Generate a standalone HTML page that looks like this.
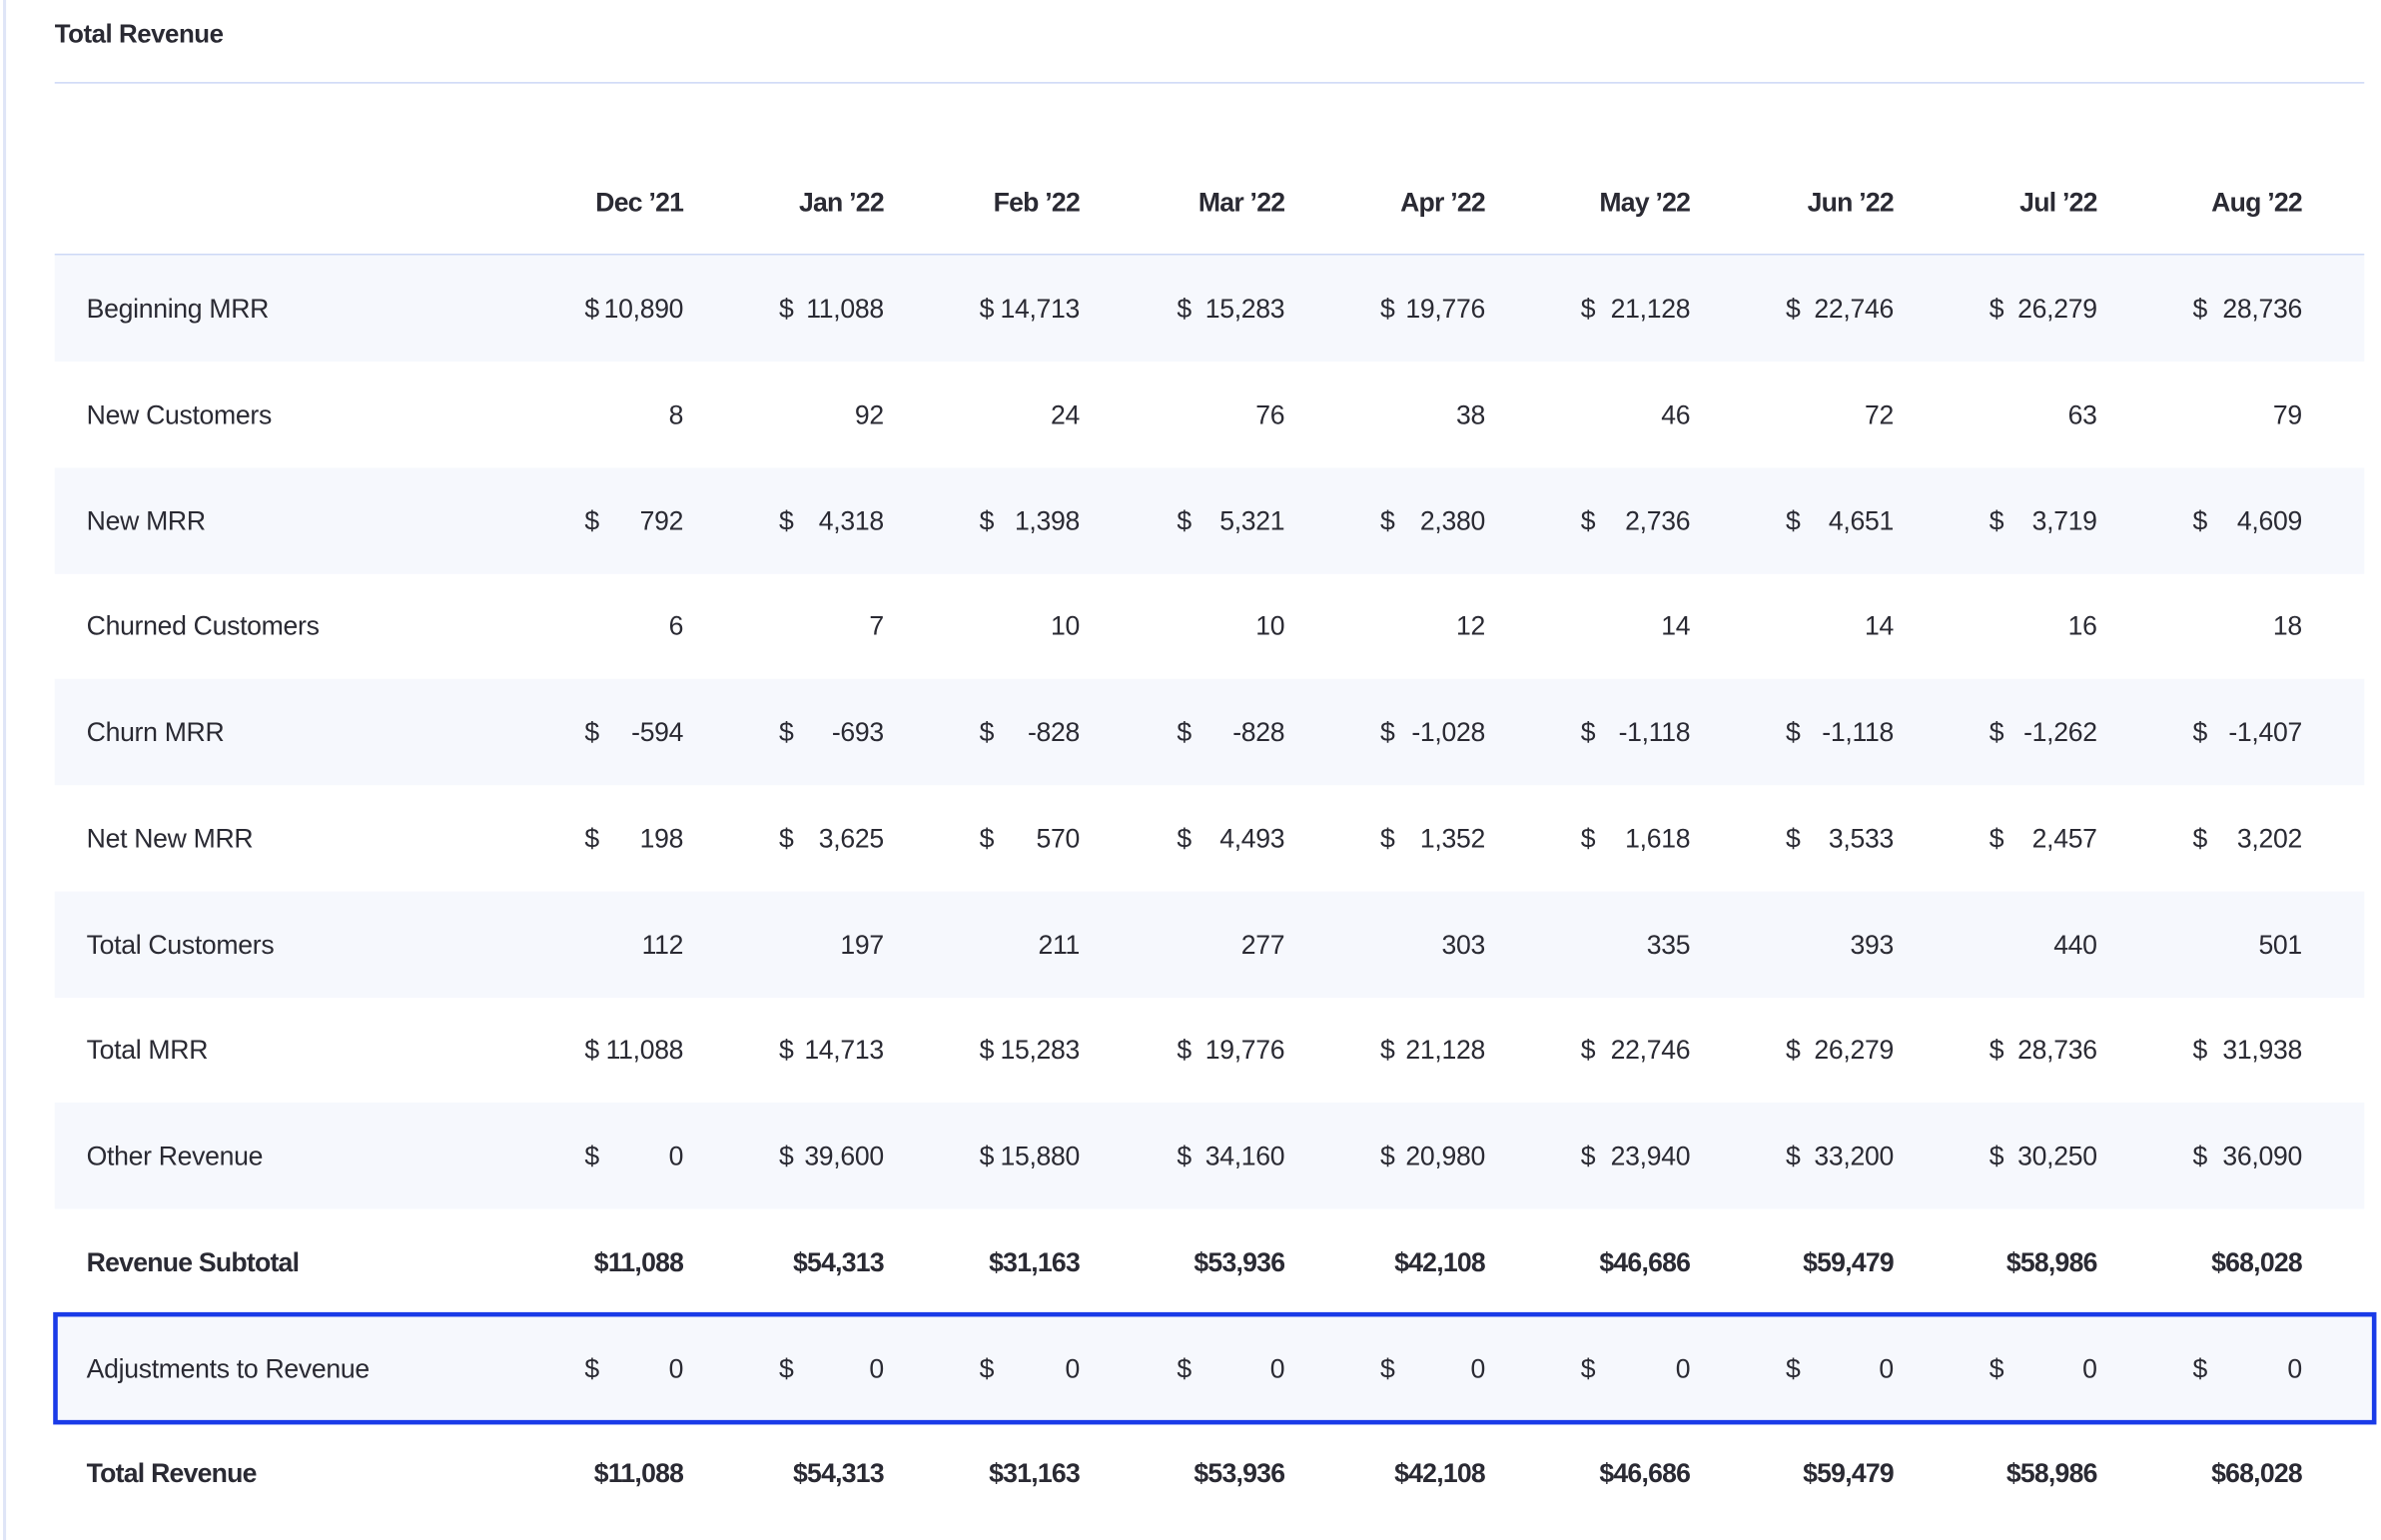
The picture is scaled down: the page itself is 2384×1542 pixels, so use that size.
<!DOCTYPE html>
<html><head><meta charset="utf-8"><style>
html,body{margin:0;padding:0;background:#fff;overflow:hidden}
body{width:2384px;height:1542px}
#w{position:absolute;left:0;top:0;width:1568px;height:1014px;transform:scale(1.52041,1.52071);transform-origin:0 0;font-family:"Liberation Sans",sans-serif;color:#2a2a33}
.vl{position:absolute;left:2px;top:0;width:2px;height:1014px;background:#dfe5f7}
.title{position:absolute;left:36px;top:13px;font-size:17px;font-weight:bold;letter-spacing:-0.3px}
.hl{position:absolute;left:36px;width:1521px;height:1px;background:#cdd8f6}
.band{position:absolute;left:36px;width:1521px;height:70px;background:#f6f8fd}
.t{position:absolute;font-size:17.5px;line-height:20px;white-space:nowrap;letter-spacing:-0.2px}
.b{font-weight:bold;letter-spacing:-0.5px}
.box{position:absolute;left:35px;top:864px;width:1524px;height:68px;border:3px solid #1a3be8;background:#f6f8fd}
</style></head><body><div id="w">
<div class="vl"></div>
<div class="title">Total Revenue</div>
<div class="hl" style="top:54px"></div>
<div class="hl" style="top:167px"></div>
</div>
<script>
var W=document.getElementById('w');
var R=[450,582,711,846,978,1113,1247,1381,1516];
var L=[385,513,645,775,909,1041,1176,1310,1444];
var hd=["Dec \u201921","Jan \u201922","Feb \u201922","Mar \u201922","Apr \u201922","May \u201922","Jun \u201922","Jul \u201922","Aug \u201922"];
function add(h){W.insertAdjacentHTML('beforeend',h);}
hd.forEach(function(s,i){add('<div class="t b" style="right:'+(1568-R[i])+'px;top:123px">'+s+'</div>');});
var rows=[
["Beginning MRR",1,["10,890","11,088","14,713","15,283","19,776","21,128","22,746","26,279","28,736"]],
["New Customers",0,["8","92","24","76","38","46","72","63","79"]],
["New MRR",1,["792","4,318","1,398","5,321","2,380","2,736","4,651","3,719","4,609"]],
["Churned Customers",0,["6","7","10","10","12","14","14","16","18"]],
["Churn MRR",1,["-594","-693","-828","-828","-1,028","-1,118","-1,118","-1,262","-1,407"]],
["Net New MRR",1,["198","3,625","570","4,493","1,352","1,618","3,533","2,457","3,202"]],
["Total Customers",0,["112","197","211","277","303","335","393","440","501"]],
["Total MRR",1,["11,088","14,713","15,283","19,776","21,128","22,746","26,279","28,736","31,938"]],
["Other Revenue",1,["0","39,600","15,880","34,160","20,980","23,940","33,200","30,250","36,090"]],
["Revenue Subtotal",2,["$11,088","$54,313","$31,163","$53,936","$42,108","$46,686","$59,479","$58,986","$68,028"]],
["Adjustments to Revenue",1,["0","0","0","0","0","0","0","0","0"]],
["Total Revenue",2,["$11,088","$54,313","$31,163","$53,936","$42,108","$46,686","$59,479","$58,986","$68,028"]]
];
rows.forEach(function(r,k){
  var top=168+k*69.75, cy=top+35;
  if(k==10){add('<div class="box"></div>');}
  else if(k%2==0){add('<div class="band" style="top:'+top+'px"></div>');}
  var b=r[1]==2?' b':'';
  add('<div class="t'+b+'" style="left:57px;top:'+(cy-10)+'px">'+r[0]+'</div>');
  r[2].forEach(function(v,i){
    add('<div class="t'+b+'" style="right:'+(1568-R[i])+'px;top:'+(cy-10)+'px">'+v+'</div>');
    if(r[1]==1) add('<div class="t" style="left:'+L[i]+'px;top:'+(cy-10)+'px">$</div>');
  });
});
</script>
</body></html>
